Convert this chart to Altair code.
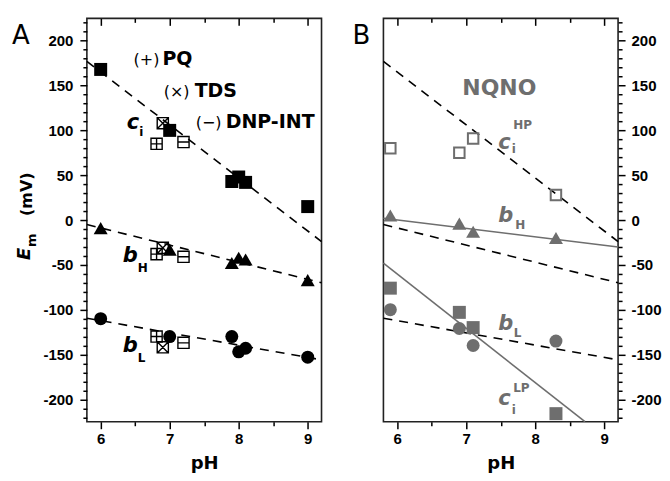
import altair as alt
import pandas as pd

FONT = "DejaVu Sans"
TICKFONT = "Liberation Sans"
GRAY = "#6e6e6e"

# ---------------- Panel A data ----------------
ci_ph = [6.0, 7.0, 7.9, 8.0, 8.1, 9.0]
ci_mv = [168, 100, 43, 48, 42, 15]
bh_ph = [6.0, 7.0, 7.9, 8.0, 8.1, 9.0]
bh_mv = [-9, -33, -48, -42, -44, -67]
bl_ph = [6.0, 7.0, 7.9, 8.0, 8.1, 9.0]
bl_mv = [-110, -130, -130, -147, -143, -153]

inhibitors = ["PQ", "TDS", "DNP-INT"]
inhib_marks = ["(+)", "(\u00d7)", "(\u2212)"]
inhib_ph = [6.81, 6.9, 7.2]
ci_inhib_mv = [85, 108, 87]
bh_inhib_mv = [-38, -31, -41]
bl_inhib_mv = [-130, -142, -137]

fit_ph = [5.8, 9.2]
ci_fit_mv = [177, -24]
bh_fit_mv = [-5, -70]
bl_fit_mv = [-109.5, -156]

# ---------------- Panel B data (NQNO) ----------------
nq_ph = [5.9, 6.9, 7.1, 8.3]
cihp_mv = [80, 75, 91, 28]
bhq_mv = [5, -4, -13, -20]
cilp_mv = [-76, -103, -120, -216]
blq_mv = [-100, -121, -140, -135]
bhq_fit_ph = [5.8, 9.2]
bhq_fit_mv = [2, -30]
cilp_fit_ph = [5.8, 8.72]
cilp_fit_mv = [-48, -225]

# ---------------- ticks ----------------
x_major = [6, 7, 8, 9]
x_minor = [6.5, 7.5, 8.5]
y_major = list(range(-200, 201, 50))
y_minor = [v for v in range(-220, 221, 10) if v % 50 != 0]

# ---------------- annotations ----------------
A_let_t = ["c", "b", "b"]
A_let_x = [6.379, 6.321, 6.321]
A_let_y = [101.4, -46.8, -147]
A_sub_t = ["i", "H", "L"]
A_sub_x = [6.56, 6.538, 6.538]
A_sub_y = [94.0, -57.9, -158.2]
A_par_x = [6.476, 6.914, 7.377]
A_name_x = [6.895, 7.362, 7.811]
A_lab_y = [172.7, 137, 102.5]

B_let_t = ["c", "b", "b", "c"]
B_let_x = [7.464, 7.464, 7.464, 7.464]
B_let_y = [79, -2.2, -122.5, -206]
B_sub_t = ["i", "HP", "H", "L", "i", "LP"]
B_sub_x = [7.66, 7.68, 7.71, 7.69, 7.66, 7.68]
B_sub_y = [74.5, 101.4, -10, -130.3, -216, -191.6]

XS = alt.Scale(domain=[5.8, 9.2], nice=False, zero=False)
YS = alt.Scale(domain=[-225, 225], nice=False, zero=False)

SQ = "M-1,-1H1V1H-1Z"
CI = "M-1,0A1,1,0,1,0,1,0A1,1,0,1,0,-1,0Z"
TR = "M0,-1L1,0.75L-1,0.75Z"
SQ_SHAPES = [SQ + "M-1,0H1M0,-1V1", SQ + "M-1,-1L1,1M-1,1L1,-1", SQ + "M-1,0H1"]
CI_SHAPES = [CI + "M-1,0H1M0,-1V1", CI + "M-0.7,-0.7L0.7,0.7M-0.7,0.7L0.7,-0.7", CI + "M-1,0H1"]
TR_SHAPES = [TR + "M0,-1V0.75M-0.6,0.1H0.6", TR + "M-0.5,-0.1L0.5,0.75M0.5,-0.1L-0.5,0.75", TR + "M-0.6,0.15H0.6"]


def enc(chart):
    return chart.encode(x=alt.X("ph:Q", scale=XS, axis=None), y=alt.Y("mv:Q", scale=YS, axis=None))


def pts(ph, mv, **mark):
    return enc(alt.Chart(pd.DataFrame({"ph": ph, "mv": mv})).mark_point(opacity=1, **mark))


def line(ph, mv, **mark):
    return enc(alt.Chart(pd.DataFrame({"ph": ph, "mv": mv})).mark_line(**mark))


def inhib_pts(mv, shapes):
    df = pd.DataFrame({"ph": inhib_ph, "mv": mv, "inh": inhibitors})
    return enc(alt.Chart(df).mark_point(filled=False, size=125, strokeWidth=1.4, color="black", opacity=1)).encode(
        shape=alt.Shape("inh:N", scale=alt.Scale(domain=inhibitors, range=shapes), legend=None))


def texts(t, x, y, **mark):
    df = pd.DataFrame({"t": t, "x": x, "y": y})
    return alt.Chart(df).mark_text(align="left", baseline="alphabetic", font=FONT, **mark).encode(
        x=alt.X("x:Q", scale=XS, axis=None), y=alt.Y("y:Q", scale=YS, axis=None), text="t:N")


def pix_text(t, px, py, **mark):
    return alt.Chart(pd.DataFrame({"t": [t]})).mark_text(font=FONT, **mark).encode(
        x=alt.value(px), y=alt.value(py), text="t:N")


def make_axis(orient, values, size, labels=False, title=None, offset=0, lpad=3, tpad=8):
    kw = dict(orient=orient, values=values, tickSize=size, tickWidth=1.5, tickColor="black",
              domain=False, grid=False, labels=labels)
    if labels:
        kw.update(labelFont=TICKFONT, labelFontSize=15, labelFontWeight="bold", labelColor="black",
                  labelPadding=lpad, labelExpr="'' + datum.value")
    if offset:
        kw["offset"] = offset
    if title:
        kw.update(title=title, titleFont=FONT, titleFontSize=18, titleFontWeight="bold",
                  titleColor="black", titlePadding=tpad)
    else:
        kw["title"] = None
    return alt.Axis(**kw)


def axis_layers(yorient):
    d = pd.DataFrame({"ph": fit_ph, "mv": ci_fit_mv})
    base = alt.Chart(d).mark_point(opacity=0)
    ylpad = 7 if yorient == "left" else 6
    return [
        base.encode(x=alt.X("ph:Q", scale=XS, axis=make_axis("bottom", x_major, 7, True, "pH")),
                    y=alt.Y("mv:Q", scale=YS, axis=make_axis(yorient, y_major, 7, True, lpad=ylpad))),
        base.encode(x=alt.X("ph:Q", scale=XS, axis=make_axis("bottom", x_minor, 4)),
                    y=alt.Y("mv:Q", scale=YS, axis=make_axis(yorient, y_minor, 4))),
        base.encode(x=alt.X("ph:Q", scale=XS, axis=make_axis("top", x_major, 7, offset=-7)),
                    y=alt.Y("mv:Q", scale=YS, axis=None)),
        base.encode(x=alt.X("ph:Q", scale=XS, axis=make_axis("top", x_minor, 4, offset=-4)),
                    y=alt.Y("mv:Q", scale=YS, axis=None)),
    ]


DASH = dict(color="black", strokeWidth=1.6, strokeDash=[9, 7])

panel_a = alt.layer(
    line(fit_ph, ci_fit_mv, **DASH),
    line(fit_ph, bh_fit_mv, **DASH),
    line(fit_ph, bl_fit_mv, **DASH),
    pts(ci_ph, ci_mv, shape="square", filled=True, size=169, color="black"),
    pts(bh_ph, bh_mv, shape="triangle-up", filled=True, size=196, color="black"),
    pts(bl_ph, bl_mv, shape="circle", filled=True, size=169, color="black"),
    inhib_pts(ci_inhib_mv, SQ_SHAPES),
    inhib_pts(bh_inhib_mv, TR_SHAPES),
    inhib_pts(bl_inhib_mv, CI_SHAPES),
    texts(A_let_t, A_let_x, A_let_y, fontSize=21, fontWeight="bold", fontStyle="italic", color="black"),
    texts(A_sub_t, A_sub_x, A_sub_y, fontSize=12, fontWeight="bold", color="black"),
    texts(inhib_marks, A_par_x, A_lab_y, fontSize=16, color="black"),
    texts(inhibitors, A_name_x, A_lab_y, fontSize=19, fontWeight="bold", color="black"),
    pix_text("A", -75, 26, fontSize=26, align="left", baseline="alphabetic", color="black"),
    pix_text("E", -57, 242, fontSize=18, fontWeight="bold", fontStyle="italic", angle=270,
             align="left", baseline="alphabetic", color="black"),
    pix_text("m", -51, 229, fontSize=13, fontWeight="bold", angle=270, align="left",
             baseline="alphabetic", color="black"),
    pix_text("(mV)", -55, 198, fontSize=16, fontWeight="bold", angle=270, align="left",
             baseline="alphabetic", color="black"),
    *axis_layers("left"),
).resolve_axis(x="independent", y="independent").properties(width=235, height=404)

panel_b = alt.layer(
    line(fit_ph, ci_fit_mv, **DASH),
    line(fit_ph, bh_fit_mv, **DASH),
    line(fit_ph, bl_fit_mv, **DASH),
    line(bhq_fit_ph, bhq_fit_mv, color=GRAY, strokeWidth=1.6),
    line(cilp_fit_ph, cilp_fit_mv, color=GRAY, strokeWidth=1.6),
    pts(nq_ph, cihp_mv, shape="square", filled=False, size=110, strokeWidth=2, color=GRAY),
    pts(nq_ph, bhq_mv, shape="triangle-up", filled=True, size=196, color=GRAY),
    pts(nq_ph, cilp_mv, shape="square", filled=True, size=169, color=GRAY),
    pts(nq_ph, blq_mv, shape="circle", filled=True, size=169, color=GRAY),
    texts(["NQNO"], [6.943], [139], fontSize=22, fontWeight="bold", color=GRAY),
    texts(B_let_t, B_let_x, B_let_y, fontSize=21, fontWeight="bold", fontStyle="italic", color=GRAY),
    texts(B_sub_t, B_sub_x, B_sub_y, fontSize=12, fontWeight="bold", color=GRAY),
    pix_text("B", -31, 26, fontSize=26, align="left", baseline="alphabetic", color="black"),
    *axis_layers("right"),
).resolve_axis(x="independent", y="independent").properties(width=235, height=404)

chart = alt.hconcat(panel_a, panel_b, spacing=62, bounds="flush").properties(
    padding={"left": 3, "top": 8, "right": 0, "bottom": 0}, background="white"
).configure_view(stroke="#222222", strokeWidth=1.6)

chart.save("out.html", embed_options={"renderer": "svg", "actions": False})
